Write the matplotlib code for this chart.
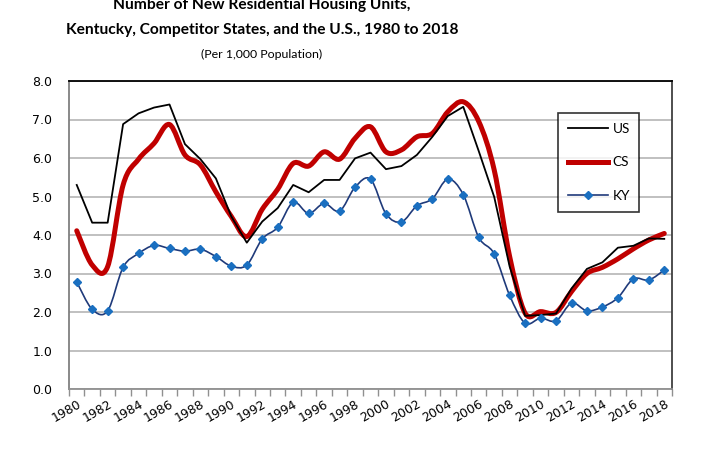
import numpy as np
import matplotlib
matplotlib.use('Agg')
import matplotlib.pyplot as plt
from matplotlib.path import Path
from matplotlib.patches import PathPatch
from matplotlib.lines import Line2D

years = list(range(1980, 2019))

us = [5.30, 4.32, 4.32, 6.88, 7.16, 7.31, 7.39, 6.36, 5.97, 5.47,
      4.48, 3.80, 4.35, 4.70, 5.30, 5.11, 5.43, 5.43, 5.99, 6.14,
      5.71, 5.79, 6.08, 6.55, 7.09, 7.33, 6.18, 4.99, 3.18, 1.90,
      1.92, 1.96, 2.61, 3.12, 3.29, 3.67, 3.72, 3.91, 3.90]

cs = [4.11, 3.22, 3.18, 5.30, 5.97, 6.38, 6.87, 6.08, 5.82, 5.12,
      4.48, 3.96, 4.67, 5.19, 5.86, 5.79, 6.16, 5.97, 6.51, 6.81,
      6.16, 6.21, 6.55, 6.64, 7.20, 7.46, 6.95, 5.69, 3.44, 1.97,
      2.01, 1.99, 2.53, 3.00, 3.16, 3.38, 3.64, 3.87, 4.04]

ky = [2.78, 2.07, 2.03, 3.16, 3.52, 3.73, 3.65, 3.58, 3.63, 3.44,
      3.19, 3.22, 3.90, 4.20, 4.85, 4.56, 4.82, 4.62, 5.24, 5.45,
      4.55, 4.34, 4.76, 4.94, 5.45, 5.05, 3.94, 3.51, 2.43, 1.71,
      1.84, 1.77, 2.23, 2.03, 2.13, 2.37, 2.86, 2.83, 3.09]

title_lines = ["Number of New Residential Housing Units,",
               "Kentucky, Competitor States, and the U.S., 1980 to 2018"]
subtitle = "(Per 1,000 Population)"


def smooth_path(xs, ys):
    # Excel-style smoothed line: cubic bezier segments
    pts = np.column_stack([xs, ys]).astype(float)
    n = len(pts)
    verts = [pts[0]]
    codes = [Path.MOVETO]
    for i in range(n - 1):
        p0 = pts[i - 1] if i > 0 else pts[i]
        p1 = pts[i]
        p2 = pts[i + 1]
        p3 = pts[i + 2] if i + 2 < n else pts[i + 1]
        c1 = p1 + (p2 - p0) / 6.0
        c2 = p2 - (p3 - p1) / 6.0
        verts += [c1, c2, p2]
        codes += [Path.CURVE4] * 3
    return Path(verts, codes)


fig = plt.figure(figsize=(7.09, 4.57), dpi=100)
ax = fig.add_axes([69 / 709, 68 / 457, 603 / 709, 308 / 457])

x = np.arange(len(years))

red = '#c00000'
navy = '#1f3a7a'
blue = '#1a6fc0'

ax.plot(x, us, color='black', lw=1.3, zorder=4)
ax.add_patch(PathPatch(smooth_path(x, cs), fill=False, edgecolor=red, lw=3.6,
                       capstyle='round', joinstyle='round', zorder=3))
ax.add_patch(PathPatch(smooth_path(x, ky), fill=False, edgecolor=navy, lw=1.2, zorder=5))
ax.plot(x, ky, ls='none', marker='D', ms=4.5, color=blue, mec=blue, zorder=6)

ax.set_xlim(-0.5, len(years) - 0.5)
ax.set_ylim(0, 8)
ax.set_yticks(np.arange(0, 8.1, 1.0))
ax.set_yticklabels([f'{v:.1f}' for v in np.arange(0, 8.1, 1.0)], fontsize=9)
ax.tick_params(axis='y', length=0, pad=12)
ax.yaxis.grid(True, color='#c0c0c0', lw=1.4)
ax.set_axisbelow(True)

ax.set_xticks(x[::2])
ax.set_xticklabels([str(y) for y in years[::2]], rotation=30, ha='right',
                   rotation_mode='anchor', fontsize=9)
ax.set_xticks(np.arange(-0.5, len(years), 1), minor=True)
ax.tick_params(axis='x', which='major', length=0, pad=6)
ax.tick_params(axis='x', which='minor', length=5, color='#909090', width=1)

ax.spines['left'].set_color('#808080')
ax.spines['bottom'].set_color('#909090')
ax.spines['top'].set_color('black')
ax.spines['right'].set_color('#404040')
for s in ax.spines.values():
    s.set_linewidth(1.3)

handles = [Line2D([], [], color='black', lw=1.3),
           Line2D([], [], color=red, lw=3.6),
           Line2D([], [], color=navy, lw=1.2, marker='D', ms=4.5, mfc=blue, mec=blue)]
leg = ax.legend(handles, ['US', 'CS', 'KY'], loc='upper left',
                bbox_to_anchor=((558 - 69) / 603, (389 - 113) / 308),
                borderaxespad=0, frameon=True, fancybox=False, edgecolor='black',
                handlelength=3.0, handletextpad=0.3, labelspacing=1.6, borderpad=0.7,
                prop={'family': 'Lato', 'size': 9.8})
leg.get_frame().set_linewidth(1.2)

fig.text(262 / 709, 1 - 9 / 457, title_lines[0], ha='center', va='baseline',
         fontsize=11.2, fontweight='bold', family='Lato')
fig.text(262 / 709, 1 - 34 / 457, title_lines[1], ha='center', va='baseline',
         fontsize=11.2, fontweight='bold', family='Lato')
fig.text(262 / 709, 1 - 58 / 457, subtitle, ha='center', va='baseline',
         fontsize=8.9, family='Lato')

fig.savefig('out.png', dpi=100)
